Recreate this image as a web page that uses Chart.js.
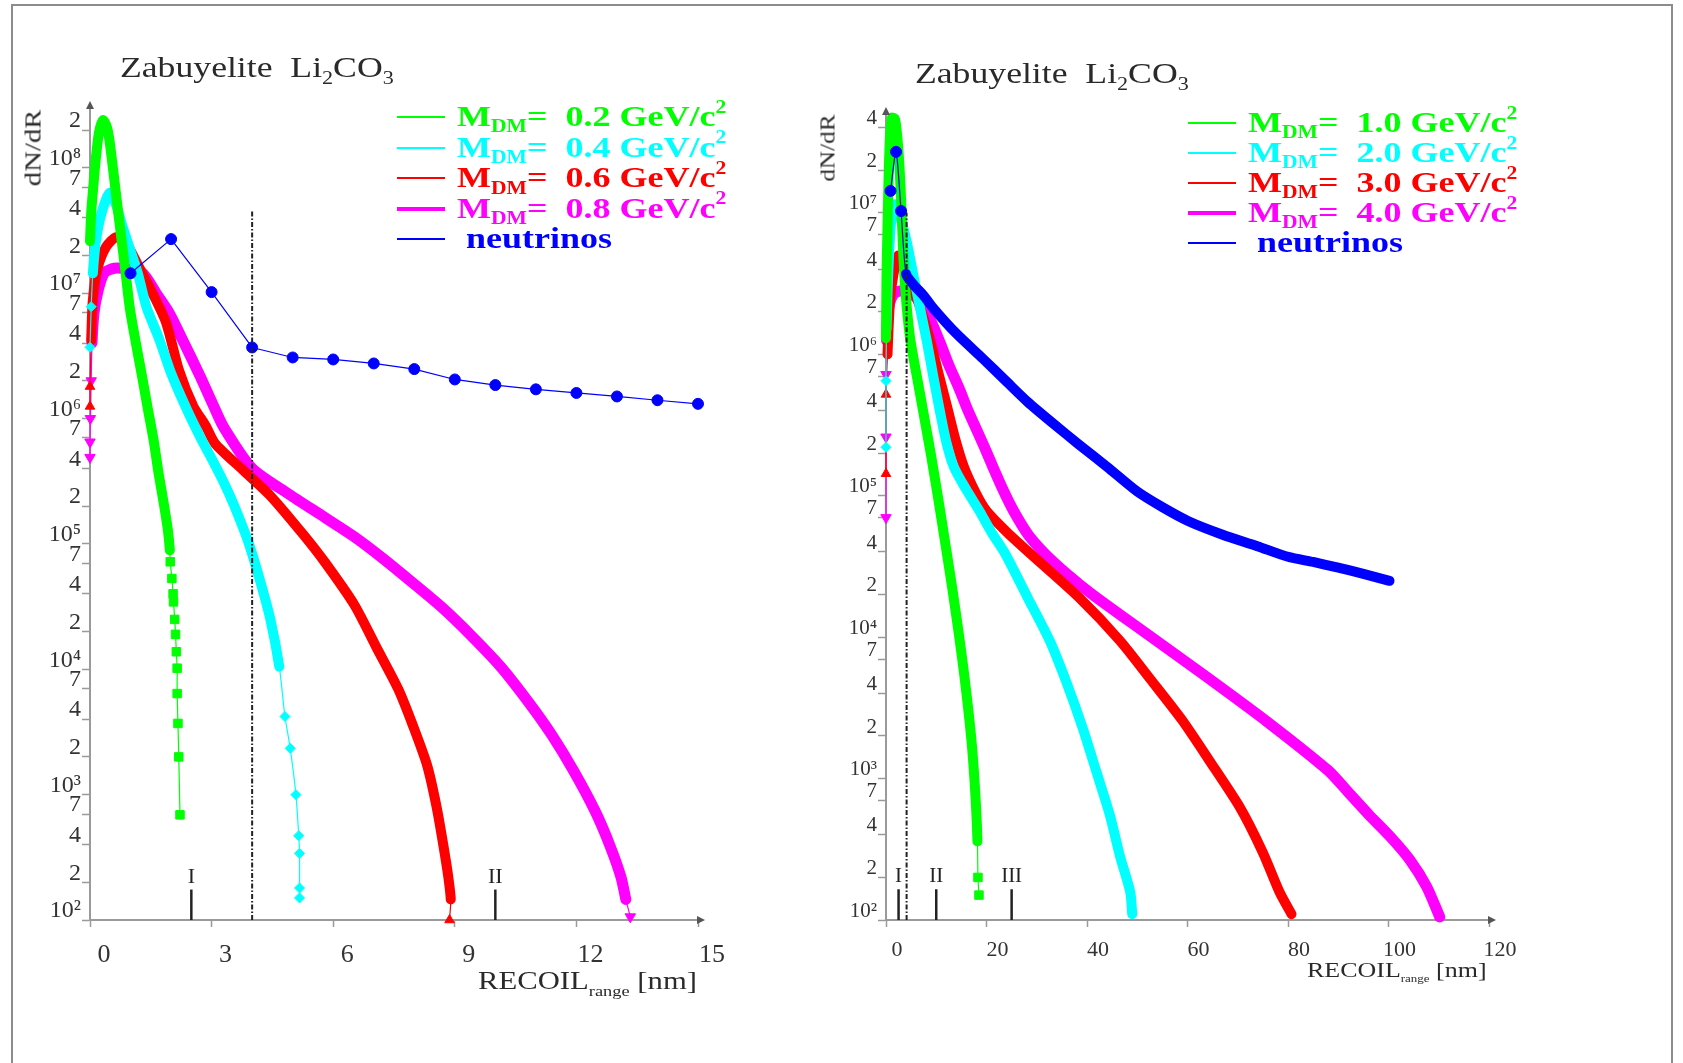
<!DOCTYPE html>
<html>
<head>
<meta charset="utf-8">
<title>Zabuyelite Li2CO3 recoil spectra</title>
<script src="https://cdn.jsdelivr.net/npm/chart.js@4.4.1/dist/chart.umd.min.js"></script>
<style>
  body { margin: 0; background: #fff; }
  #page { position: relative; width: 1683px; height: 1063px; overflow: hidden; background: #fff;
          font-family: 'Liberation Serif', 'DejaVu Serif', serif; color: #2a2a2a; }
  #frame { position: absolute; left: 11px; top: 4px; width: 1658px; height: 1100px; border: 2px solid #8c8c8c; }
  canvas { position: absolute; }
  .title { position: absolute; font-size: 29px; line-height: 29px; white-space: nowrap;
           transform: scaleX(1.23); transform-origin: 0 0; }
  .tsb { font-size: 0.62em; position: relative; top: 0.38em; }
  .ytitle { position: absolute; white-space: nowrap; line-height: 1; }
  .xtitle { position: absolute; white-space: nowrap; transform: scaleX(1.18); transform-origin: 0 0; }
  .xsb { font-size: 0.6em; position: relative; top: 0.45em; }
  .row { position: absolute; height: 0; }
  .swatch { position: absolute; left: 0; width: 48px; }
  .lab { position: absolute; white-space: nowrap; font-weight: bold; font-size: 30px; line-height: 30px;
         transform: scaleX(1.2); transform-origin: 0 0; }
  .sb { font-size: 0.6em; position: relative; top: 0.36em; }
  .sp { font-size: 0.6em; position: relative; top: -0.75em; }
</style>
</head>
<body>
<div id="page">
  <div id="frame"></div>

  <canvas id="left" width="740" height="920" style="left:0px;top:80px"></canvas>
  <canvas id="right" width="760" height="920" style="left:800px;top:80px"></canvas>

  <div class="title" style="left:120px;top:53px">Zabuyelite&nbsp; Li<span class="tsb">2</span>CO<span class="tsb">3</span></div>
  <div class="title" style="left:915px;top:59px">Zabuyelite&nbsp; Li<span class="tsb">2</span>CO<span class="tsb">3</span></div>

  <div class="ytitle" style="left:33px;top:148px;font-size:23px;transform:translate(-50%,-50%) rotate(-90deg) scaleX(1.25)">dN/dR</div>
  <div class="ytitle" style="left:828px;top:148px;font-size:21px;transform:translate(-50%,-50%) rotate(-90deg) scaleX(1.2)">dN/dR</div>

  <div class="xtitle" style="left:478px;top:968px;font-size:26px;line-height:26px">RECOIL<span class="xsb">range</span> [nm]</div>
  <div class="xtitle" style="left:1307px;top:959px;font-size:22px;line-height:22px">RECOIL<span class="xsb" style="font-size:0.5em">range</span> [nm]</div>

  <div id="legL"></div>
  <div id="legR"></div>
</div>

<script>
// ---------------- left panel: M_DM = 0.2 ... 0.8 GeV/c^2, recoil range 0-15 nm ----------------
const L_x_02 = [0.00, 0.03, 0.08, 0.14, 0.22, 0.32, 0.42, 0.48, 0.58, 0.68, 0.78, 0.88, 0.98, 1.12, 1.27, 1.42, 1.57, 1.69, 1.82, 1.92, 1.97,
                1.98, 2.02, 2.05, 2.06, 2.09, 2.11, 2.13, 2.15, 2.15, 2.17, 2.19, 2.22];
const L_y_02 = [2.6e7, 4.4e7, 7.0e7, 1.15e8, 1.9e8, 2.4e8, 2.1e8, 1.66e8, 9.1e7, 4.85e7, 2.65e7, 1.44e7, 7.7e6, 4.2e6, 2.3e6, 1.23e6, 6.7e5, 3.7e5, 2.1e5, 1.3e5, 8.9e4,
                7.2e4, 5.3e4, 4.0e4, 3.45e4, 2.5e4, 1.9e4, 1.38e4, 1.02e4, 6.4e3, 3.7e3, 2.0e3, 6.9e2];

const L_x_04 = [0.00, 0.03, 0.07, 0.15, 0.28, 0.48, 0.65, 0.78, 0.92, 1.18, 1.39, 1.72, 2.00, 2.38, 2.75, 3.00, 3.30, 3.55, 3.90, 4.18, 4.45,
                4.67, 4.81, 4.94, 5.08, 5.15, 5.17, 5.17, 5.17];
const L_y_04 = [3.7e6, 7.8e6, 1.44e7, 2.65e7, 4.3e7, 6.3e7, 5.0e7, 3.6e7, 2.6e7, 1.44e7, 7.8e6, 4.2e6, 2.3e6, 1.2e6, 6.8e5, 4.8e5, 3.1e5, 2.05e5, 1.05e5, 5.3e4, 2.5e4,
                1.05e4, 4.2e3, 2.34e3, 1.0e3, 4.7e2, 3.4e2, 1.8e2, 1.5e2];

const L_x_06 = [0.00, 0.00, 0.03, 0.07, 0.19, 0.40, 0.65, 0.89, 1.22, 1.55, 1.88, 2.20, 2.55, 2.85, 3.09, 3.81, 4.45, 5.26, 5.80, 6.52, 7.06,
                7.60, 7.96, 8.32, 8.55, 8.72, 8.84, 8.90, 8.87];
const L_y_06 = [1.25e6, 1.8e6, 4.2e6, 8.8e6, 1.59e7, 2.35e7, 2.8e7, 2.5e7, 1.59e7, 9.9e6, 5.8e6, 2.4e6, 1.25e6, 8.8e5, 6.3e5, 3.79e5, 2.42e5, 1.19e5, 7.1e4, 3.27e4, 1.51e4,
                7.0e3, 3.6e3, 1.7e3, 8.0e2, 3.9e2, 2.2e2, 1.46e2, 1.0e2];

const L_x_08 = [0.00, 0.00, 0.01, 0.03, 0.05, 0.10, 0.20, 0.35, 0.60, 0.90, 1.30, 1.64, 1.96, 2.29, 2.71, 3.03, 3.30, 4.00, 4.90, 5.80, 6.52,
                7.24, 7.96, 8.69, 9.41, 10.13, 10.85, 11.39, 11.93, 12.47, 12.83, 13.10, 13.22, 13.33];
const L_y_08 = [4.9e5, 6.5e5, 1.0e6, 2.0e6, 4.0e6, 7.0e6, 1.05e7, 1.45e7, 1.58e7, 1.56e7, 1.44e7, 9.9e6, 6.9e6, 4.2e6, 2.2e6, 1.3e6, 8.5e5, 4.0e5, 2.5e5, 1.62e5, 1.14e5,
                7.6e4, 4.9e4, 3.1e4, 1.85e4, 1.05e4, 5.3e3, 3.0e3, 1.55e3, 7.3e2, 3.9e2, 2.2e2, 1.46e2, 1.06e2];

const L_x_nu = [1, 2, 3, 4, 5, 6, 7, 8, 9, 10, 11, 12, 13, 14, 15];
const L_y_nu = [1.44e7, 2.7e7, 1.02e7, 3.69e6, 3.07e6, 2.96e6, 2.75e6, 2.48e6, 2.05e6, 1.85e6, 1.71e6, 1.6e6, 1.5e6, 1.4e6, 1.31e6];

const L_xTicks = [0, 3, 6, 9, 12, 15];
const L_yTicks = [1e2, 2e2, 4e2, 7e2, 1e3, 2e3, 4e3, 7e3, 1e4, 2e4, 4e4, 7e4, 1e5, 2e5, 4e5, 7e5,
                  1e6, 2e6, 4e6, 7e6, 1e7, 2e7, 4e7, 7e7, 1e8, 2e8];
const L_cutX = 4, L_cutY = [1e2, 4.6e7];
const L_regionX = [2.5, 10], L_regionName = ['I', 'II'], L_regionTop = 1.75e2;
const L_masses = ['0.2', '0.4', '0.6', '0.8'];

// ---------------- right panel: M_DM = 1 ... 4 GeV/c^2, recoil range 0-120 nm ----------------
const R_x_10 = [0.0, 0.1, 0.3, 0.5, 0.8, 1.2, 1.8, 2.4, 2.9, 3.4, 3.9, 4.8, 6.3, 8.0, 9.0, 10.4, 11.8, 13.2, 14.5, 15.6, 16.6, 17.3, 17.9, 18.2, 18.3, 18.5];
const R_y_10 = [1.3e6, 3.5e6, 8e6, 1.7e7, 3.5e7, 4.7e7, 4.6e7, 3.0e7, 1.5e7, 5.5e6, 2.7e6, 1.3e6, 6.5e5, 3.0e5, 1.9e5, 9.5e4, 4.6e4, 2.2e4, 1.05e4, 5.3e3, 2.6e3, 1.4e3, 6.5e2, 3.6e2, 2.0e2, 1.5e2];

const R_x_20 = [0.0, 0.0, 0.1, 0.3, 0.6, 1.0, 1.8, 2.8, 4.1, 5.4, 6.8, 8.1, 9.4, 10.7, 12.0, 13.5, 16.0, 18.6, 21.0, 23.7, 28.2, 32.6, 36.0, 39.1, 41.8, 44.5, 46.6, 48.6, 49.0];
const R_y_20 = [2.2e5, 6.5e5, 1.5e6, 2.7e6, 5e6, 8.5e6, 1.15e7, 9.5e6, 6.3e6, 3.7e6, 2.1e6, 1.25e6, 7e5, 4e5, 2.4e5, 1.6e5, 1.1e5, 7.8e4, 5.5e4, 3.9e4, 1.9e4, 9.4e3, 4.7e3, 2.3e3, 1.14e3, 5.6e2, 2.8e2, 1.58e2, 1.1e2];

const R_x_30 = [0.0, 0.0, 0.3, 0.8, 1.5, 2.45, 4.1, 6.5, 8.8, 10.5, 12.2, 13.8, 15.5, 17.9, 20.0, 24.1, 28.8, 38.4, 46.6, 52.7, 58.9, 64.3, 70.5, 75.0, 78.3, 80.7];
const R_y_30 = [1.43e5, 5.2e5, 1.0e6, 2.4e6, 3.7e6, 5.0e6, 3.7e6, 2.3e6, 1.25e6, 7.2e5, 4.2e5, 2.5e5, 1.6e5, 1.04e5, 7.8e4, 5.5e4, 3.87e4, 1.91e4, 9.4e3, 5.0e3, 2.6e3, 1.35e3, 6.2e2, 3.0e2, 1.58e2, 1.1e2];

const R_x_40 = [0.0, 0.0, 0.0, 0.1, 0.5, 1.5, 2.8, 4.8, 6.5, 9.0, 10.8, 12.5, 14.5, 16.2, 17.9, 19.6, 21.3, 23.3, 25.4, 28.3, 31.6, 36.0, 41.1,
                52.0, 63.6, 76.0, 88.0, 92.0, 96.0, 100.3, 104.3, 107.6, 110.2];
const R_y_40 = [7.0e4, 2.6e5, 7.2e5, 1.25e6, 2.1e6, 2.66e6, 2.8e6, 2.7e6, 2.4e6, 1.7e6, 1.2e6, 8.4e5, 5.8e5, 4.1e5, 3.0e5, 2.2e5, 1.59e5, 1.1e5, 7.8e4, 5.3e4, 3.9e4, 2.8e4, 2.0e4,
                1.05e4, 5.3e3, 2.5e3, 1.14e3, 8.0e2, 5.6e2, 3.9e2, 2.65e2, 1.72e2, 1.05e2];

const R_x_nu = [0.9, 2.0, 3.0, 4.0, 5.5, 7.5, 9.5, 14, 19.3, 24, 28.2, 33, 38.4, 44, 50, 55, 60.2, 67, 73.9, 80, 85, 90, 95, 100.2];
const R_y_nu = [1.43e7, 2.7e7, 1.03e7, 3.7e6, 3.1e6, 2.6e6, 2.1e6, 1.4e6, 9.3e5, 6.4e5, 4.6e5, 3.3e5, 2.3e5, 1.6e5, 1.07e5, 8.3e4, 6.6e4, 5.3e4, 4.4e4, 3.7e4, 3.4e4, 3.1e4, 2.8e4, 2.5e4];

const R_xTicks = [0, 20, 40, 60, 80, 100, 120];
const R_yTicks = [1e2, 2e2, 4e2, 7e2, 1e3, 2e3, 4e3, 7e3, 1e4, 2e4, 4e4, 7e4, 1e5, 2e5, 4e5, 7e5,
                  1e6, 2e6, 4e6, 7e6, 1e7, 2e7, 4e7];
const R_cutX = 4.1, R_cutY = [1e2, 1e7];
const R_regionX = [2.5, 10, 25], R_regionName = ['I', 'II', 'III'], R_regionTop = 1.65e2;
const R_masses = ['1.0', '2.0', '3.0', '4.0'];

// ---------------- styling ----------------
const SERIF = "'Liberation Serif', 'DejaVu Serif', serif";
const COLORS = ['#00ff00', '#00ffff', '#ff0000', '#ff00ff', '#0000ff'];
const AXIS = '#9a9a9a';
const SUP = { 2: '\u00b2', 3: '\u00b3', 4: '\u2074', 5: '\u2075', 6: '\u2076', 7: '\u2077', 8: '\u2078' };

function powLabel(v) {
  const e = Math.floor(Math.log10(v) + 1e-9);
  const m = Math.round(v / Math.pow(10, e));
  return m === 1 ? '10' + SUP[e] : String(m);
}

function pts(xs, ys) {
  return xs.map((x, i) => ({ x: x, y: ys[i] }));
}

// dense = index range drawn as a thick band of overlapping markers, the rest as single markers on a thin line
function curve(xs, ys, color, shape, rot, radius, dense, width, order, tension) {
  const inDense = i => i >= dense[0] && i <= dense[1];
  return {
    data: pts(xs, ys),
    order: order,
    borderColor: color,
    backgroundColor: color,
    borderWidth: width,
    borderJoinStyle: 'round',
    borderCapStyle: 'round',
    pointStyle: shape,
    pointRotation: rot,
    pointRadius: c => inDense(c.dataIndex) ? 0 : radius,
    pointHoverRadius: 0,
    pointBorderWidth: 1,
    segment: {
      borderWidth: c => (inDense(c.p0DataIndex) && inDense(c.p1DataIndex)) ? width : 1.2
    },
    tension: tension,
    clip: false,
    fill: false
  };
}

function vline(x, ys, width, dash) {
  return {
    data: pts([x, x], ys),
    borderColor: '#222',
    borderWidth: width,
    borderDash: dash,
    pointRadius: 0,
    tension: 0,
    order: 0,
    clip: false
  };
}

function xScale(ticks, max, size, pad, offset) {
  return {
    type: 'linear', min: 0, max: max,
    afterBuildTicks: s => { s.ticks = ticks.map(v => ({ value: v })); },
    afterFit: s => { s.height = 60; },
    border: { display: true, color: AXIS, width: 2 },
    grid: { display: true, drawOnChartArea: false, drawTicks: true, tickLength: 7, tickColor: AXIS, tickWidth: 1.5 },
    ticks: { color: '#333', font: { family: SERIF, size: size }, padding: pad, labelOffset: offset,
             maxRotation: 0, autoSkip: false }
  };
}

function yScale(ticks, max, size) {
  return {
    type: 'logarithmic', min: 100, max: max,
    afterBuildTicks: s => { s.ticks = ticks.map(v => ({ value: v })); },
    afterFit: s => { s.width = 70; },
    border: { display: true, color: AXIS, width: 2 },
    grid: { display: true, drawOnChartArea: false, drawTicks: true, tickLength: 8, tickColor: AXIS, tickWidth: 1.5 },
    ticks: { color: '#333', font: { family: SERIF, size: size }, padding: 1, labelOffset: -9,
             autoSkip: false, callback: v => powLabel(v) }
  };
}

// axis arrow heads and the I / II / III region labels
function makeDecor(xs, names, top, font) {
  return {
    id: 'panelDecor',
    afterDatasetsDraw(chart) {
      const { ctx, chartArea: a, scales } = chart;
      ctx.save();
      ctx.fillStyle = '#555';
      ctx.beginPath();
      ctx.moveTo(a.right + 7, a.bottom);
      ctx.lineTo(a.right - 1, a.bottom - 4);
      ctx.lineTo(a.right - 1, a.bottom + 4);
      ctx.closePath();
      ctx.fill();
      ctx.beginPath();
      ctx.moveTo(a.left, a.top - 7);
      ctx.lineTo(a.left - 4, a.top + 1);
      ctx.lineTo(a.left + 4, a.top + 1);
      ctx.closePath();
      ctx.fill();
      ctx.fillStyle = '#222';
      ctx.font = font;
      ctx.textAlign = 'center';
      ctx.textBaseline = 'alphabetic';
      names.forEach((n, i) => {
        ctx.fillText(n, scales.x.getPixelForValue(xs[i]), scales.y.getPixelForValue(top) - 7);
      });
      ctx.restore();
    }
  };
}

function baseOptions(pad, xs, ys) {
  return {
    responsive: false,
    animation: false,
    events: [],
    layout: { padding: pad },
    plugins: { legend: { display: false }, tooltip: { enabled: false } },
    scales: { x: xs, y: ys }
  };
}

// left chart
new Chart(document.getElementById('left'), {
  type: 'line',
  data: {
    datasets: [
      vline(L_cutX, L_cutY, 2, [5, 2, 1.5, 2]),
      ...L_regionX.map(x => vline(x, [100, L_regionTop], 2.5, [])),
      curve(L_x_nu, L_y_nu, COLORS[4], 'circle', 0, 5.5, [-1, -1], 1.2, 1, 0),
      curve(L_x_02, L_y_02, COLORS[0], 'rect', 0, 6, [0, 20], 10, 2, 0.25),
      curve(L_x_04, L_y_04, COLORS[1], 'rectRot', 0, 5, [2, 21], 10, 3, 0.25),
      curve(L_x_06, L_y_06, COLORS[2], 'triangle', 0, 5.5, [2, 27], 10, 4, 0.25),
      curve(L_x_08, L_y_08, COLORS[3], 'triangle', 180, 6, [4, 32], 11, 5, 0.25)
    ]
  },
  options: baseOptions({ left: 20, right: 42, top: 28, bottom: 20 },
                       xScale(L_xTicks, 15, 26, 13, 14),
                       yScale(L_yTicks, 3e8, 24)),
  plugins: [makeDecor(L_regionX, L_regionName, L_regionTop, '22px ' + SERIF)]
});

// right chart
new Chart(document.getElementById('right'), {
  type: 'line',
  data: {
    datasets: [
      vline(R_cutX, R_cutY, 2, [5, 2, 1.5, 2]),
      ...R_regionX.map(x => vline(x, [100, R_regionTop], 2.5, [])),
      curve(R_x_nu, R_y_nu, COLORS[4], 'circle', 0, 5.5, [3, 23], 10, 1, 0.25),
      curve(R_x_10, R_y_10, COLORS[0], 'rect', 0, 6, [0, 23], 10, 2, 0.25),
      curve(R_x_20, R_y_20, COLORS[1], 'rectRot', 0, 5, [2, 28], 10, 3, 0.25),
      curve(R_x_30, R_y_30, COLORS[2], 'triangle', 0, 5.5, [2, 25], 10, 4, 0.25),
      curve(R_x_40, R_y_40, COLORS[3], 'triangle', 180, 6, [3, 32], 11, 5, 0.25)
    ]
  },
  options: baseOptions({ left: 16, right: 71, top: 34, bottom: 20 },
                       xScale(R_xTicks, 120, 22, 10, 11),
                       yScale(R_yTicks, 5e7, 21)),
  plugins: [makeDecor(R_regionX, R_regionName, R_regionTop, '21px ' + SERIF)]
});

// legends (HTML so the sub/superscripts stay real text)
const SWATCH_H = [2, 2, 2, 4, 2];
function buildLegend(el, masses, left, top0, step) {
  const rows = masses.map(m => 'M<span class="sb">DM</span>=&nbsp; ' + m + ' GeV/c<span class="sp">2</span>');
  rows.push('&nbsp;neutrinos');
  rows.forEach((html, i) => {
    const row = document.createElement('div');
    row.className = 'row';
    row.style.left = left + 'px';
    row.style.top = (top0 + i * step) + 'px';
    const sw = document.createElement('div');
    sw.className = 'swatch';
    sw.style.height = SWATCH_H[i] + 'px';
    sw.style.top = (-SWATCH_H[i] / 2) + 'px';
    sw.style.background = COLORS[i];
    const lab = document.createElement('div');
    lab.className = 'lab';
    lab.style.left = '60px';
    lab.style.top = '-16px';
    lab.style.color = COLORS[i];
    lab.innerHTML = html;
    row.appendChild(sw);
    row.appendChild(lab);
    el.appendChild(row);
  });
}
buildLegend(document.getElementById('legL'), L_masses, 397, 117, 30.6);
buildLegend(document.getElementById('legR'), R_masses, 1188, 123, 30);
</script>
</body>
</html>
